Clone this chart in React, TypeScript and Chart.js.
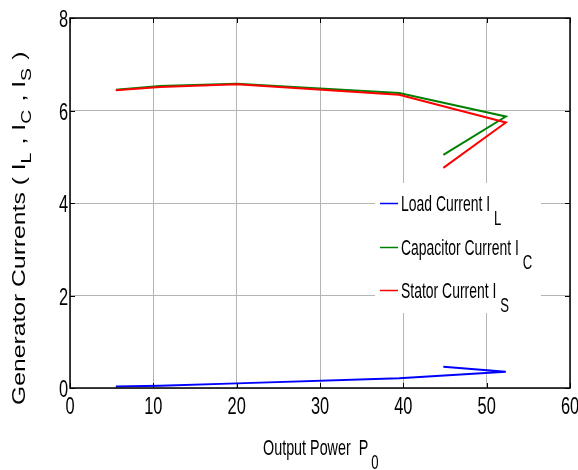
import React, { useEffect, useRef } from "react";
import { Chart, registerables } from "chart.js";

Chart.register(...registerables);

const outputPower = [5.5, 10.8, 20, 39.5, 52.3, 44.8];
const loadCurrent = [0.03, 0.05, 0.1, 0.21, 0.35, 0.46];
const capacitorCurrent = [6.45, 6.53, 6.58, 6.38, 5.87, 5.04];
const statorCurrent = [6.44, 6.51, 6.57, 6.34, 5.74, 4.76];

const xMin = 0, xMax = 60, xStep = 10;
const yMin = 0, yMax = 8, yStep = 2;

const seriesNames = ["Load Current I", "Capacitor Current I", "Stator Current I"];
const seriesSubs = ["L", "C", "S"];
const seriesColors = ["#0000ff", "#008000", "#ff0000"];

const xTitle = "Output Power  P";
const xTitleSub = "0";
const yTitleParts = ["Generator Currents ( I", "L", " , I", "C", " , I", "S", " )"];

const REG = '"Liberation Sans", Arial, sans-serif';
const SX = 0.82; // narrow emulation

function txt(ctx: CanvasRenderingContext2D, s: string, x: number, y: number, size: number, sy: number, align: CanvasTextAlign = "left") {
  ctx.save();
  ctx.translate(x, y);
  ctx.scale(SX, sy);
  ctx.font = `${size}px ${REG}`;
  ctx.textAlign = align;
  ctx.textBaseline = "alphabetic";
  ctx.fillStyle = "#000";
  ctx.fillText(s, 0, 0);
  const w = ctx.measureText(s).width * SX;
  ctx.restore();
  return w;
}

const framePlugin = {
  id: "matlabFrame",
  afterDraw(chart: any) {
    const ctx: CanvasRenderingContext2D = chart.ctx;
    const { left, right, top, bottom } = chart.chartArea;
    const xs = chart.scales.x;
    const ys = chart.scales.y;
    ctx.save();
    // inner ticks + tick labels
    ctx.strokeStyle = "#000";
    ctx.lineWidth = 1;
    const tl = 5;
    xs.ticks.forEach((t: any) => {
      const px = Math.round(xs.getPixelForValue(t.value)) + 0.5;
      ctx.beginPath();
      ctx.moveTo(px, bottom); ctx.lineTo(px, bottom - tl);
      ctx.moveTo(px, top); ctx.lineTo(px, top + tl);
      ctx.stroke();
      txt(ctx, String(t.value), xs.getPixelForValue(t.value), 414, 20, 1.18, "center");
    });
    ys.ticks.forEach((t: any) => {
      const py = Math.round(ys.getPixelForValue(t.value)) + 0.5;
      ctx.beginPath();
      ctx.moveTo(left, py); ctx.lineTo(left + tl, py);
      ctx.moveTo(right, py); ctx.lineTo(right - tl, py);
      ctx.stroke();
      txt(ctx, String(t.value), left - 2, ys.getPixelForValue(t.value) + 9, 20, 1.18, "right");
    });
    // box
    ctx.lineWidth = 1.5;
    ctx.strokeRect(left, top, right - left, bottom - top);

    // legend
    const lx = 375, ly = 183, lw = 166, lh = 130;
    ctx.fillStyle = "#fff";
    ctx.fillRect(lx, ly, lw, lh);
    const rowY = [203, 247, 290];
    for (let i = 0; i < seriesNames.length; i++) {
      const y = rowY[i];
      ctx.strokeStyle = seriesColors[i];
      ctx.lineWidth = 1.5;
      ctx.beginPath();
      ctx.moveTo(380, y + 0.5); ctx.lineTo(398, y + 0.5);
      ctx.stroke();
      const w = txt(ctx, seriesNames[i], 401, y + 8, 17, 1.3);
      txt(ctx, seriesSubs[i], 401 + w + 4, y + 22, 16, 1.3);
    }

    // x title
    const w = txt(ctx, xTitle, 263, 455, 17.5, 1.3);
    txt(ctx, xTitleSub, 263 + w + 3, 469, 16, 1.3);

    // y title (rotated)
    ctx.save();
    ctx.translate(25, 405);
    ctx.rotate(-Math.PI / 2);
    ctx.scale(1.3, 1);
    ctx.fillStyle = "#000";
    ctx.textBaseline = "alphabetic";
    let cx = 0;
    for (let i = 0; i < yTitleParts.length; i++) {
      const sub = i % 2 === 1;
      ctx.font = sub ? `15px ${REG}` : `19px ${REG}`;
      ctx.fillText(yTitleParts[i], cx, sub ? 6 : 0);
      cx += ctx.measureText(yTitleParts[i]).width + (sub ? 1 : 0);
    }
    ctx.restore();
    ctx.restore();
  },
};

export default function App() {
  const ref = useRef<HTMLCanvasElement>(null);
  useEffect(() => {
    const toPts = (ys: number[]) => outputPower.map((x, i) => ({ x, y: ys[i] }));
    const chart = new Chart(ref.current!, {
      type: "scatter",
      data: {
        datasets: [
          { label: seriesNames[2], data: toPts(statorCurrent), borderColor: seriesColors[2], order: 0 },
          { label: seriesNames[1], data: toPts(capacitorCurrent), borderColor: seriesColors[1], order: 1 },
          { label: seriesNames[0], data: toPts(loadCurrent), borderColor: seriesColors[0], order: 2 },
        ].map((d) => ({ ...d, showLine: true, pointRadius: 0, borderWidth: 2, fill: false, tension: 0 })),
      },
      options: {
        animation: false,
        responsive: false,
        devicePixelRatio: 1,
        layout: { padding: { left: 0, right: 8, top: 18, bottom: 0 } },
        plugins: { legend: { display: false }, tooltip: { enabled: false } },
        scales: {
          x: {
            type: "linear",
            min: xMin,
            max: xMax,
            ticks: { stepSize: xStep, display: false },
            grid: { color: "#b4b4b4", drawTicks: false, lineWidth: 1 },
            border: { display: false },
            afterFit: (s: any) => { s.height = 82; },
          },
          y: {
            type: "linear",
            min: yMin,
            max: yMax,
            ticks: { stepSize: yStep, display: false },
            grid: { color: "#b4b4b4", drawTicks: false, lineWidth: 1 },
            border: { display: false },
            afterFit: (s: any) => { s.width = 70; },
          },
        },
      },
      plugins: [framePlugin],
    } as any);
    return () => chart.destroy();
  }, []);
  return (
    <div style={{ position: "absolute", left: 0, top: 0, width: 578, height: 470, background: "#fff" }}>
      <canvas ref={ref} width={578} height={470} />
    </div>
  );
}
